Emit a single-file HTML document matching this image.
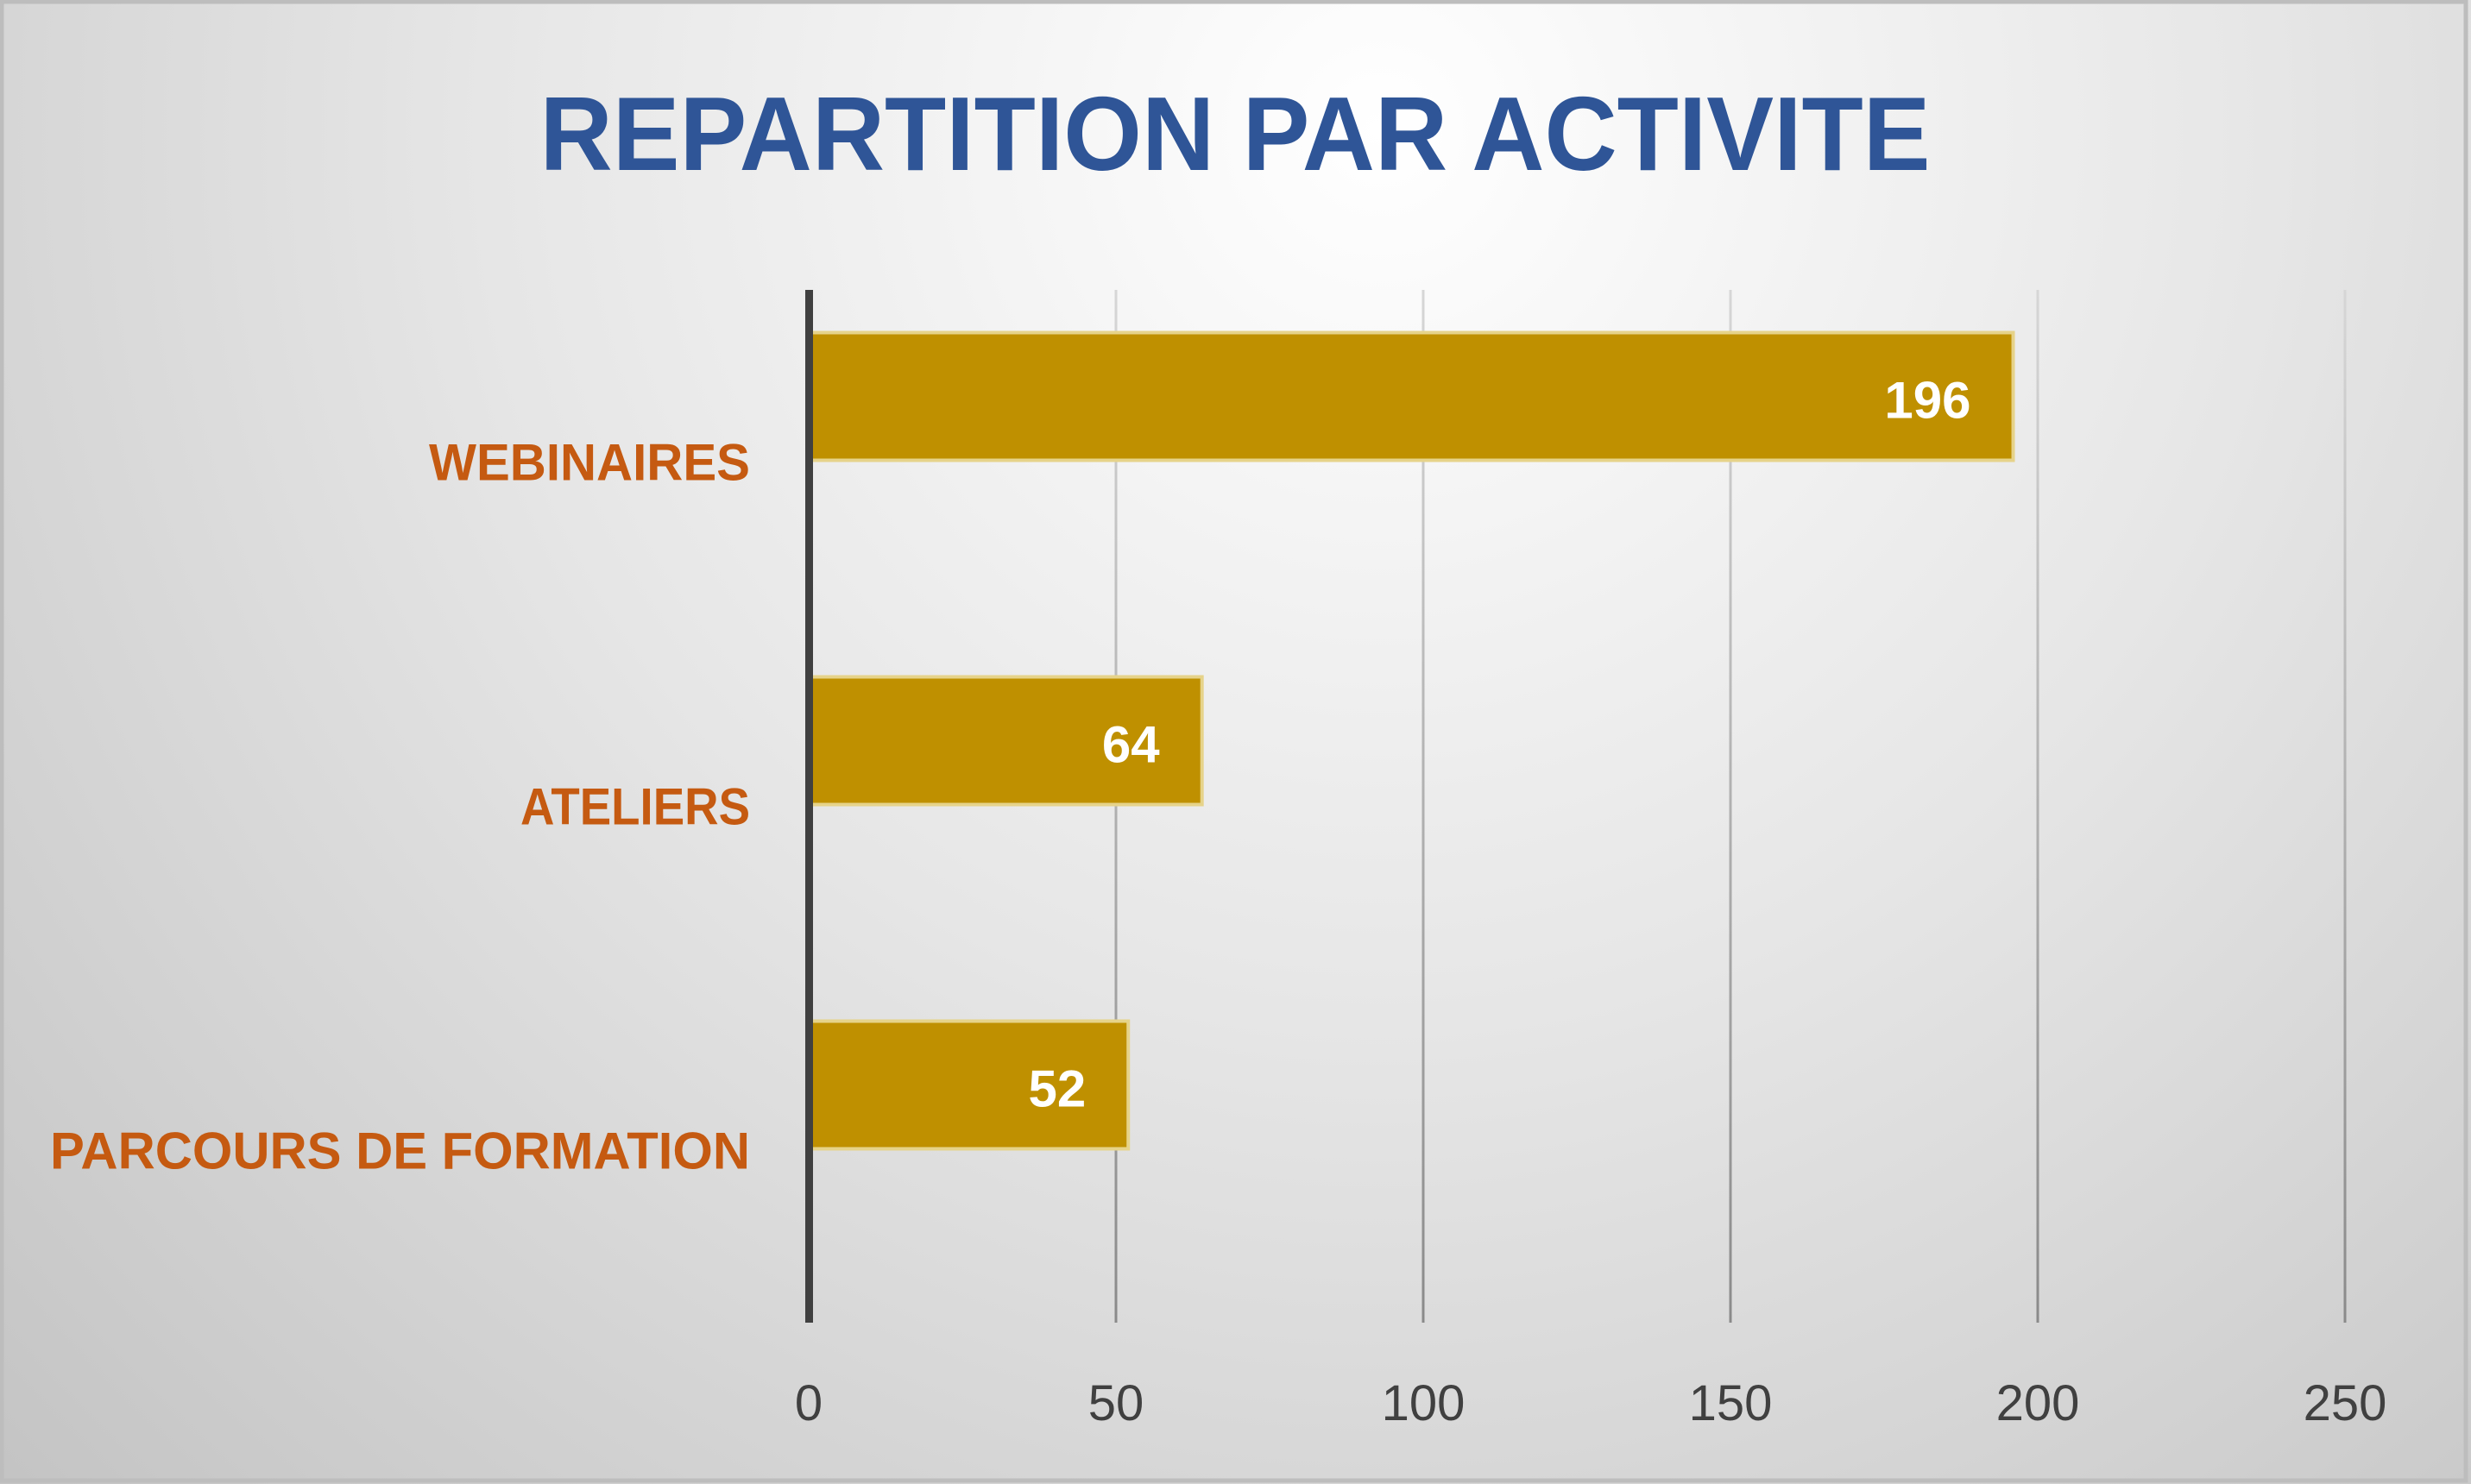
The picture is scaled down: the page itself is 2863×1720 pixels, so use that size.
<!DOCTYPE html>
<html><head><meta charset="utf-8">
<style>
html,body{margin:0;padding:0;width:2863px;height:1720px;overflow:hidden;background:#d0d0d0;}
svg{display:block;}
</style></head>
<body>
<svg id="chart" width="2863" height="1720" viewBox="0 0 2863 1720" xmlns="http://www.w3.org/2000/svg">
<defs>
<radialGradient id="bg" cx="1600" cy="150" r="2300" gradientUnits="userSpaceOnUse">
<stop offset="0" stop-color="#ffffff"/>
<stop offset="0.45" stop-color="#e6e6e6"/>
<stop offset="1" stop-color="#c2c2c2"/>
</radialGradient>
<linearGradient id="gridg" x1="0" y1="336" x2="0" y2="1533" gradientUnits="userSpaceOnUse">
<stop offset="0" stop-color="#d6d6d6"/>
<stop offset="1" stop-color="#8a8a8a"/>
</linearGradient>
</defs>
<rect x="0" y="0" width="2863" height="1720" fill="url(#bg)"/>
<rect x="2" y="2" width="2855" height="1714" fill="none" stroke="#bdbdbd" stroke-width="5"/>
<text x="1431" y="197" text-anchor="middle" textLength="1611" lengthAdjust="spacingAndGlyphs" font-family="Liberation Sans, sans-serif" font-weight="bold" font-size="122" fill="#2F5597">REPARTITION PAR ACTIVITE</text>
<g id="grid"></g>
<g id="bars"></g>
<g id="labels"></g>
<rect x="933" y="336" width="9" height="1197" fill="#404040"/>
</svg>
<script>
const categories = ["WEBINAIRES", "ATELIERS", "PARCOURS DE FORMATION"];
const values = [196, 64, 52];
const ticks = [0, 50, 100, 150, 200, 250];
const labelWidths = [372, 266, 811];

const NS = "http://www.w3.org/2000/svg";
const x0 = 937, pxPerUnit = 356 / 50;
const plotTop = 336, plotBottom = 1533;
const band = (plotBottom - plotTop) / categories.length;
function xScale(v){ return x0 + v * pxPerUnit; }
function bandCenter(i){ return plotTop + band * (i + 0.5); }

const grid = document.getElementById('grid');
const bars = document.getElementById('bars');
const labels = document.getElementById('labels');

ticks.forEach(function(t){
  if (t !== 0) {
    const l = document.createElementNS(NS, 'rect');
    
    
    l.setAttribute('x', xScale(t) - 1.5);
    l.setAttribute('y', plotTop);
    l.setAttribute('width', 3);
    l.setAttribute('height', plotBottom - plotTop);
    l.setAttribute('fill', 'url(#gridg)');
    grid.appendChild(l);
  }
  const tx = document.createElementNS(NS, 'text');
  
  
  tx.setAttribute('x', xScale(t));
  tx.setAttribute('y', 1646);
  tx.setAttribute('text-anchor', 'middle');
  tx.setAttribute('font-family', 'Liberation Sans, sans-serif');
  tx.setAttribute('font-size', '58');
  tx.setAttribute('fill', '#404040');
  tx.textContent = t;
  labels.appendChild(tx);
});

categories.forEach(function(c, i){
  const cy = bandCenter(i);
  const by = cy - 76 - 74;
  const r = document.createElementNS(NS, 'rect');
  
  
  r.setAttribute('x', x0 + 2);
  r.setAttribute('y', by);
  r.setAttribute('width', xScale(values[i]) - x0 - 2);
  r.setAttribute('height', 148);
  r.setAttribute('fill', '#BF9000');
  r.setAttribute('stroke', '#e6d38a');
  r.setAttribute('stroke-width', '4');
  bars.appendChild(r);

  const v = document.createElementNS(NS, 'text');
  
  
  v.setAttribute('x', xScale(values[i]) - 49);
  v.setAttribute('y', by + 99);
  v.setAttribute('text-anchor', 'end');
  v.setAttribute('font-family', 'Liberation Sans, sans-serif');
  v.setAttribute('font-weight', 'bold');
  v.setAttribute('font-size', '60');
  v.setAttribute('fill', '#ffffff');
  v.textContent = values[i];
  labels.appendChild(v);

  const cl = document.createElementNS(NS, 'text');
  
  
  cl.setAttribute('x', 869);
  cl.setAttribute('y', cy + 21);
  cl.setAttribute('text-anchor', 'end');
  cl.setAttribute('textLength', labelWidths[i]);
  cl.setAttribute('lengthAdjust', 'spacingAndGlyphs');
  cl.setAttribute('font-family', 'Liberation Sans, sans-serif');
  cl.setAttribute('font-weight', 'bold');
  cl.setAttribute('font-size', '60');
  cl.setAttribute('fill', '#C55A11');
  cl.textContent = c;
  labels.appendChild(cl);
});
</script>
</body></html>
